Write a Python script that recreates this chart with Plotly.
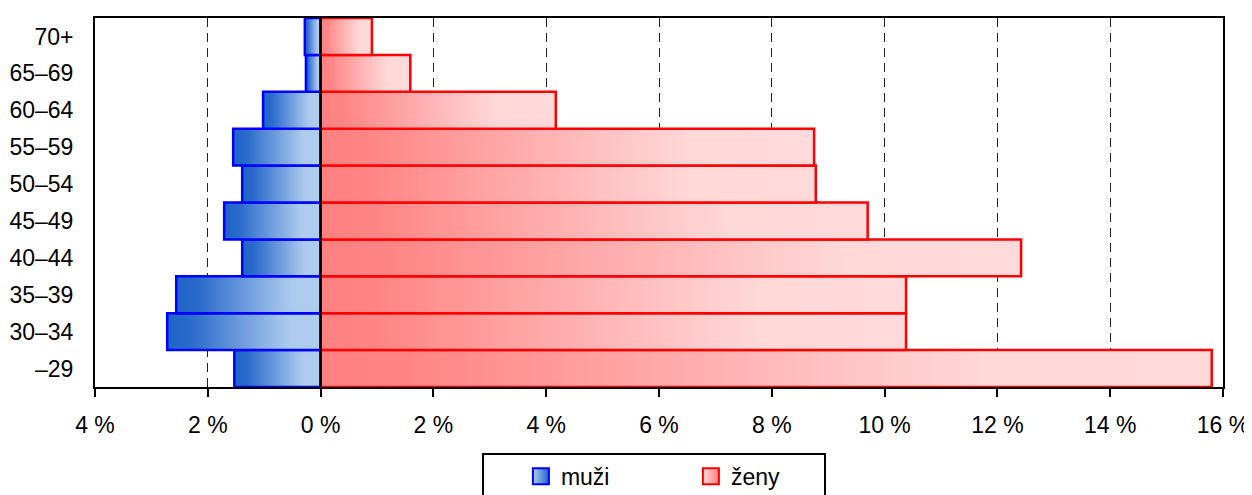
import plotly.graph_objects as go

# ---- data ----
categories = ["–29", "30–34", "35–39", "40–44", "45–49", "50–54", "55–59", "60–64", "65–69", "70+"]
muzi = [1.53, 2.72, 2.56, 1.39, 1.71, 1.39, 1.55, 1.02, 0.26, 0.28]
zeny = [15.80, 10.38, 10.38, 12.42, 9.70, 8.78, 8.75, 4.17, 1.59, 0.91]
x_tickvals = [-4, -2, 0, 2, 4, 6, 8, 10, 12, 14, 16]
x_ticktext = [f"{abs(v)} %" for v in x_tickvals]
series_names = ["muži", "ženy"]

# ---- styles ----
FONT = "Liberation Sans Narrow, Arial Narrow, Liberation Sans, Arial, sans-serif"
FS = 23
blue_line = "#0000ff"
red_line = "#ff0000"
blue_scale = [[0, "#1e64c8"], [0.15, "#2a6acb"], [0.8, "#adcbee"], [1, "#b0cdee"]]
red_scale = [[0, "#ff8080"], [0.1, "#ff8585"], [0.75, "#ffd8d8"], [1, "#ffdada"]]
HALF = 0.5  # bars fill the whole category band

fig = go.Figure()


def add_bar(i, value, sign, line_color, scale):
    xs = [0, sign * value, sign * value, 0, 0]
    ys = [i - HALF, i - HALF, i + HALF, i + HALF, i - HALF]
    fig.add_trace(go.Scatter(
        x=xs, y=ys, mode="lines", fill="toself",
        fillgradient=dict(type="horizontal", colorscale=scale),
        line=dict(color=line_color, width=2.5),
        showlegend=False, hoverinfo="skip",
    ))


for i, v in enumerate(muzi):
    add_bar(i, v, -1, blue_line, blue_scale)
for i, v in enumerate(zeny):
    add_bar(i, v, 1, red_line, red_scale)

# legend entries
fig.add_trace(go.Scatter(
    x=[None], y=[None], mode="markers", name=series_names[0],
    marker=dict(symbol="square", size=17, color="#b0cdee",
                gradient=dict(type="horizontal", color="#1e64c8"),
                line=dict(color=blue_line, width=2)),
))
fig.add_trace(go.Scatter(
    x=[None], y=[None], mode="markers", name=series_names[1],
    marker=dict(symbol="square", size=17, color="#ffdada",
                gradient=dict(type="horizontal", color="#ff8080"),
                line=dict(color=red_line, width=2)),
))

fig.add_shape(type="line", xref="x", yref="paper", x0=0, x1=0, y0=0, y1=1,
              line=dict(color="black", width=2.5), layer="above")

# the page body adds an 8px offset, so the figure is sized to fit inside the window
fig.update_layout(
    width=1244, height=487, autosize=False,
    margin=dict(l=87, r=29, t=10, b=108, autoexpand=False),
    paper_bgcolor="white", plot_bgcolor="white",
    font=dict(family=FONT, size=FS, color="black"),
    showlegend=True,
    legend=dict(
        orientation="h", x=0.343, xanchor="left", y=-0.178, yanchor="top",
        bordercolor="black", borderwidth=2, bgcolor="white",
        font=dict(family=FONT, size=FS, color="black"),
        entrywidth=88, entrywidthmode="pixels", indentation=37,
        itemwidth=30,
    ),
    xaxis=dict(
        range=[-4, 16], tickvals=x_tickvals, ticktext=x_ticktext,
        ticks="outside", ticklen=8, tickwidth=2, tickcolor="black",
        showline=True, linewidth=2, linecolor="black", mirror=True,
        showgrid=True, gridcolor="#222222", gridwidth=1, griddash="9px,6px",
        zeroline=False, tickfont=dict(size=FS), automargin=False,
        ticklabeloverflow="allow", ticklabelstandoff=8,
        fixedrange=True,
    ),
    yaxis=dict(
        range=[-0.5, 9.5], tickvals=list(range(len(categories))), ticktext=categories,
        ticks="", showline=True, linewidth=2, linecolor="black", mirror=True,
        showgrid=False, zeroline=False, tickfont=dict(size=FS), automargin=False,
        ticklabelstandoff=15, fixedrange=True,
    ),
)

fig.write_html("out.html")
